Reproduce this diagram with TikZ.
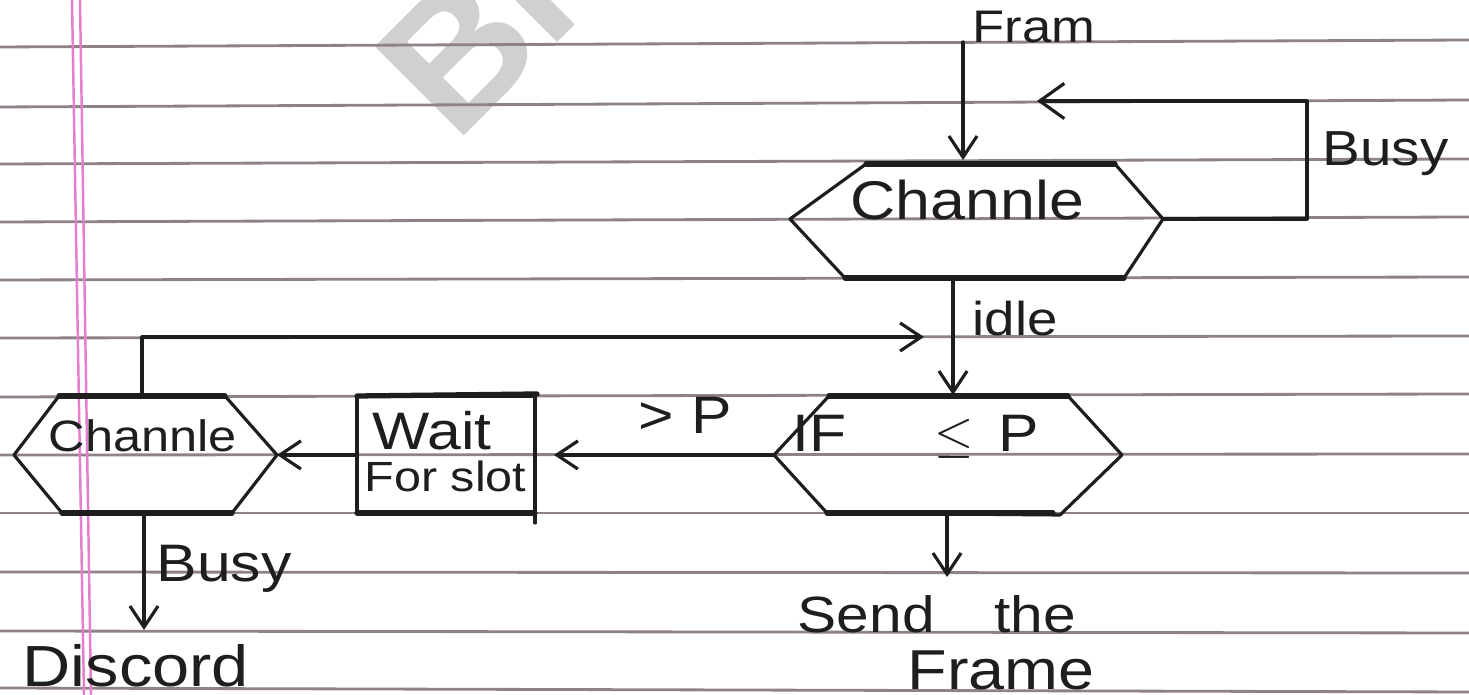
\documentclass[tikz,border=0pt]{standalone}
\usepackage{fontspec}
\setmainfont{Liberation Sans}
\newfontfamily\handfont[FakeStretch=1.15]{Liberation Sans}
\usetikzlibrary{arrows.meta}
\definecolor{ink}{HTML}{1E1E1E}
\definecolor{rulecol}{HTML}{8E8286}
\definecolor{margincol}{HTML}{E47ECD}
\definecolor{wmcol}{HTML}{D0D0D0}
\newcommand{\hsz}[1]{\fontsize{#1}{#1}\selectfont}
\tikzset{
  pen/.style={draw=ink, line width=0.9pt, line join=round, line cap=round},
  heavy/.style={draw=ink, line width=1.5pt, line cap=round},
  conn/.style={pen, -{Straight Barb[length=6pt,width=8pt,line width=0.9pt]}},
  bigconn/.style={pen, -{Straight Barb[length=7pt,width=10pt,line width=0.9pt]}},
  lbl/.style={text=ink, inner sep=0pt, anchor=base west, font=\handfont},
  ruled/.style={draw=rulecol, line width=0.8pt},
  marginline/.style={draw=margincol, line width=0.7pt},
}
\begin{document}
\begin{tikzpicture}[x=0.01cm,y=-0.01cm]
\useasboundingbox (0,0) rectangle (1469,695);
\clip (0,0) rectangle (1469,695);
\fill[white] (0,0) rectangle (1469,695);
% watermark
\node[text=wmcol, inner sep=0pt, anchor=base west, rotate=45] (wmark) at (455,145) {\hsz{52}\bfseries Bra};
% ruled paper
\foreach \a/\b in {47/40,107/100,164/159,222/217,280/277,338/336,397/394,455/454,513/513,572/573,631/633,688/692}
  \draw[ruled] (0,\a) -- (1469,\b);
\draw[marginline] (72,0) -- (84,695);
\draw[marginline] (80,0) -- (91,695);

% ---------- top Channle hexagon
\coordinate (c1tl) at (866,164);
\coordinate (c1tr) at (1115,164);
\coordinate (c1r)  at (1163,219);
\coordinate (c1br) at (1124,278);
\coordinate (c1bl) at (845,278);
\coordinate (c1l)  at (790,219);
\draw[pen] (c1tl) -- (c1tr) -- (c1r) -- (c1br) -- (c1bl) -- (c1l) -- cycle;
\draw[heavy] (c1tl) -- (c1tr);
\draw[heavy] (c1bl) -- (c1br);
\node[lbl] (ch1) at (850,220) {\hsz{15.5}Channle};

% ---------- IF hexagon
\coordinate (iftl) at (829,396);
\coordinate (iftr) at (1068,396);
\coordinate (ifr)  at (1122,455);
\coordinate (ifbr) at (1060,515);
\coordinate (ifbl) at (827,513);
\coordinate (ifl)  at (774,455);
\draw[pen] (iftl) -- (iftr) -- (ifr) -- (ifbr) -- (ifbl) -- (ifl) -- cycle;
\draw[heavy] (iftl) -- (iftr);
\draw[heavy] (ifbl) -- (1053,513);
\node[lbl] (iftext) at (792,452) {\hsz{15}IF\hspace{25pt}$\leq$\hspace{7pt}P};

% ---------- Wait box
\coordinate (wtl) at (357,396);
\coordinate (wtr) at (535,396);
\coordinate (wbr) at (535,513);
\coordinate (wbl) at (357,513);
\draw[pen] (wtl) -- (wtr) -- (wbr) -- (wbl) -- cycle;
\draw[heavy] (wtl) -- (537,394);
\draw[heavy] (wbl) -- (wbr);
\draw[pen] (wbr) -- (535,523);
\node[lbl] (wait) at (372,450) {\hsz{15}Wait};
\node[lbl] (forslot) at (364,492) {\hsz{12}For slot};

% ---------- left Channle hexagon
\coordinate (c2tl) at (59,396);
\coordinate (c2tr) at (225,396);
\coordinate (c2r)  at (277,455);
\coordinate (c2br) at (232,513);
\coordinate (c2bl) at (62,513);
\coordinate (c2l)  at (14,455);
\draw[pen] (c2tl) -- (c2tr) -- (c2r) -- (c2br) -- (c2bl) -- (c2l) -- cycle;
\draw[heavy] (c2tl) -- (c2tr);
\draw[heavy] (c2bl) -- (c2br);
\node[lbl] (ch2) at (48,452) {\hsz{12.5}Channle};

% ---------- connectors
\coordinate (framtop) at (963,42);
\coordinate (c1in) at (963,160);
\draw[conn] (framtop) -- (c1in);
\node[lbl] (fram) at (972,43) {\hsz{13}Fram};

\coordinate (busyA) at (1307,219);
\coordinate (busyB) at (1307,101);
\coordinate (busyC) at (1037,101);
\draw[bigconn] (c1r) -- (busyA) -- (busyB) -- (busyC);
\node[lbl] (busy1) at (1322,166) {\hsz{14}Busy};

\coordinate (c1out) at (953,278);
\coordinate (ifin) at (953,395);
\draw[conn] (c1out) -- (ifin);
\node[lbl] (idle) at (972,336) {\hsz{13.5}idle};

\coordinate (c2top) at (142,396);
\coordinate (retA) at (142,337);
\coordinate (retB) at (924,337);
\draw[conn] (c2top) -- (retA) -- (retB);

\coordinate (waitin) at (554,455);
\draw[conn] (ifl) -- (waitin);
\node[lbl] (gtp) at (638,434) {\hsz{15}>\hspace{5pt}P};

\coordinate (waitout) at (357,455);
\draw[conn] (waitout) -- (c2r);

\coordinate (c2bot) at (144,513);
\coordinate (discin) at (144,630);
\draw[conn] (c2bot) -- (discin);
\node[lbl] (busy2) at (156,582) {\hsz{15}Busy};
\node[lbl] (discord) at (22,687) {\hsz{16.5}Discord};

\coordinate (ifout) at (947,513);
\coordinate (sendin) at (947,577);
\draw[conn] (ifout) -- (sendin);
\node[lbl] (send) at (797,633) {\hsz{14.5}Send\hspace{17pt}the};
\node[lbl] (frame) at (907,690) {\hsz{16}Frame};
\end{tikzpicture}
\end{document}
